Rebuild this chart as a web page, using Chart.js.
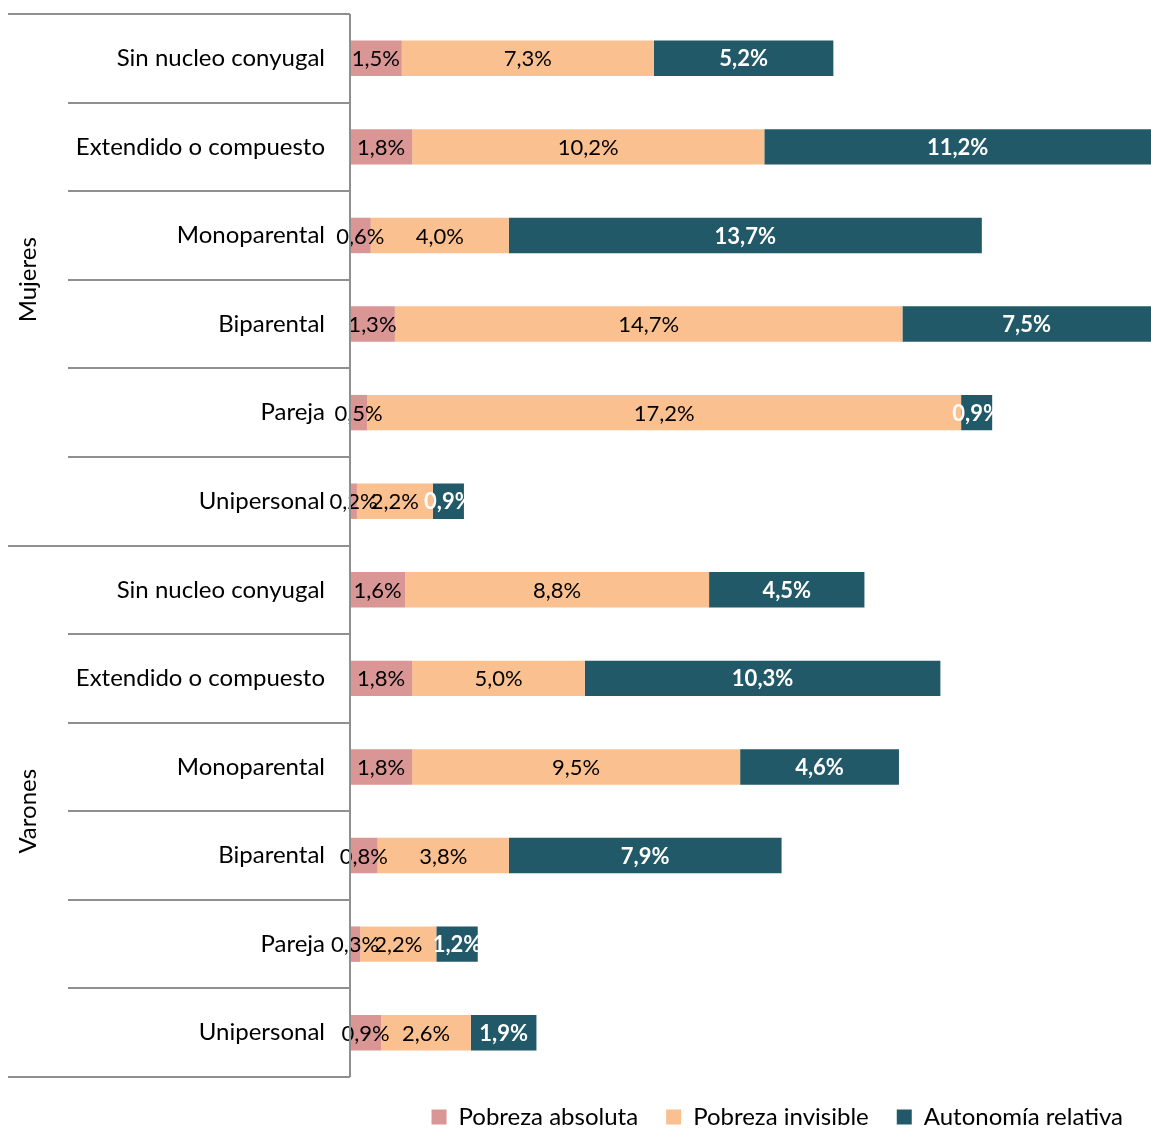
<!DOCTYPE html>
<html>
<head>
<meta charset="utf-8">
<script src="https://cdn.jsdelivr.net/npm/chart.js@4.4.1/dist/chart.umd.min.js"></script>
<style>
    html, body { margin: 0; padding: 0; background: #fff; }
</style>
</head>
<body>
<canvas id="chart" width="1151" height="1128"></canvas>
<script>
const categories = ['Sin nucleo conyugal', 'Extendido o compuesto', 'Monoparental', 'Biparental', 'Pareja', 'Unipersonal',
    'Sin nucleo conyugal', 'Extendido o compuesto', 'Monoparental', 'Biparental', 'Pareja', 'Unipersonal'];
const groups = ['Mujeres', 'Varones'];
const seriesNames = ['Pobreza absoluta', 'Pobreza invisible', 'Autonomía relativa'];
const pobrezaAbsoluta = [1.5, 1.8, 0.6, 1.3, 0.5, 0.2, 1.6, 1.8, 1.8, 0.8, 0.3, 0.9];
const pobrezaInvisible = [7.3, 10.2, 4.0, 14.7, 17.2, 2.2, 8.8, 5.0, 9.5, 3.8, 2.2, 2.6];
const autonomiaRelativa = [5.2, 11.2, 13.7, 7.5, 0.9, 0.9, 4.5, 10.3, 4.6, 7.9, 1.2, 1.9];

const colors = ['#d99694', '#fac090', '#215968'];
const FONT = "Lato, 'Open Sans', sans-serif";
const lineColor = '#8f8f8f';

// data labels centred on the visible part of each bar
const barLabels = {
    id: 'barLabels',
    afterDatasetsDraw(chart) {
        const ctx = chart.ctx;
        const area = chart.chartArea;
        ctx.save();
        ctx.textAlign = 'center';
        ctx.textBaseline = 'middle';
        chart.data.datasets.forEach((ds, i) => {
            const meta = chart.getDatasetMeta(i);
            ctx.font = (i === 2 ? 'bold ' : '') + '22px ' + FONT;
            ctx.fillStyle = i === 2 ? '#ffffff' : '#000000';
            meta.data.forEach((bar, j) => {
                const p = bar.getProps(['x', 'y', 'base'], true);
                const left = Math.max(Math.min(p.x, p.base), area.left);
                const right = Math.min(Math.max(p.x, p.base), area.right);
                const txt = ds.data[j].toFixed(1).replace('.', ',') + '%';
                ctx.fillText(txt, (left + right) / 2, p.y + 1);
            });
        });
        ctx.restore();
    }
};

// row separators, axis line and group names
const groupFrame = {
    id: 'groupFrame',
    afterDraw(chart) {
        const ctx = chart.ctx;
        const y = chart.scales.y;
        const area = chart.chartArea;
        const rowH = (y.bottom - y.top) / categories.length;
        ctx.save();
        ctx.strokeStyle = lineColor;
        ctx.lineWidth = 2;
        for (let i = 0; i <= categories.length; i++) {
            const py = Math.round(y.top + i * rowH);
            const x0 = (i % 6 === 0) ? 8 : 68;
            ctx.beginPath();
            ctx.moveTo(x0, py);
            ctx.lineTo(area.left, py);
            ctx.stroke();
        }
        ctx.beginPath();
        ctx.moveTo(area.left, y.top);
        ctx.lineTo(area.left, y.bottom);
        ctx.stroke();

        ctx.fillStyle = '#000';
        ctx.font = '24px ' + FONT;
        ctx.textAlign = 'center';
        ctx.textBaseline = 'middle';
        groups.forEach((g, k) => {
            const cy = y.top + (k * 6 + 3) * rowH;
            ctx.save();
            ctx.translate(28, cy);
            ctx.rotate(-Math.PI / 2);
            ctx.fillText(g, 0, 0);
            ctx.restore();
        });
        ctx.restore();
    }
};

new Chart(document.getElementById('chart'), {
    type: 'bar',
    data: {
        labels: categories,
        datasets: [pobrezaAbsoluta, pobrezaInvisible, autonomiaRelativa].map((d, i) => ({
            label: seriesNames[i],
            data: d,
            backgroundColor: colors[i],
            borderWidth: 0,
            barPercentage: 0.4,
            categoryPercentage: 1
        }))
    },
    options: {
        indexAxis: 'y',
        responsive: false,
        animation: false,
        layout: { autoPadding: false, padding: { top: 14, right: 0, left: 0, bottom: 0 } },
        plugins: {
            legend: {
                position: 'bottom',
                align: 'end',
                maxHeight: 51,
                labels: {
                    boxWidth: 15,
                    boxHeight: 15,
                    padding: 28,
                    color: '#000',
                    font: { size: 24, family: FONT }
                }
            },
            tooltip: { enabled: false }
        },
        scales: {
            x: {
                stacked: true,
                display: false,
                min: 0,
                max: 23.2
            },
            y: {
                stacked: true,
                grid: { display: false },
                border: { display: false },
                ticks: {
                    color: '#000',
                    padding: 17,
                    font: { size: 24, family: FONT }
                },
                afterFit(scale) {
                    scale.width = 350;
                    scale.paddingTop = 0;
                    scale.paddingBottom = 0;
                }
            }
        }
    },
    plugins: [barLabels, groupFrame]
});
</script>
</body>
</html>
